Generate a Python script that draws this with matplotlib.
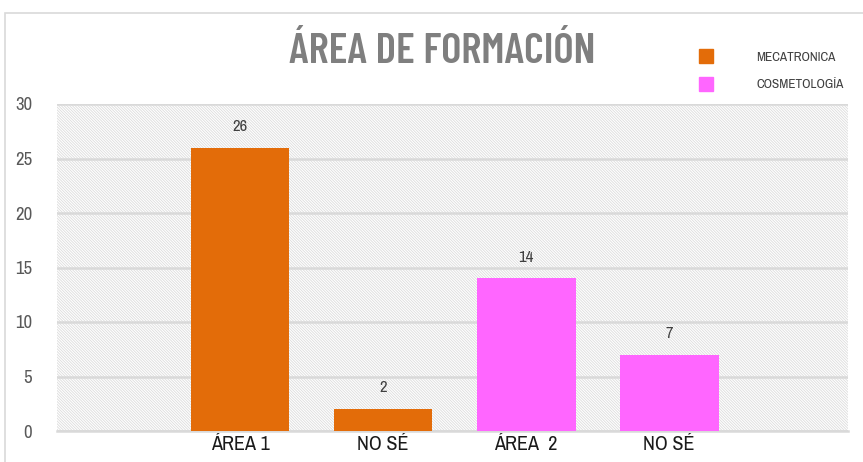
import matplotlib
matplotlib.use("Agg")
import matplotlib.pyplot as plt
from matplotlib.patches import Rectangle
from matplotlib.lines import Line2D

categories = ["ÁREA 1", "NO SÉ", "ÁREA  2", "NO SÉ"]
values = [26, 2, 14, 7]
series_of_bar = ["MECATRONICA", "MECATRONICA", "COSMETOLOGÍA", "COSMETOLOGÍA"]
series_names = ["MECATRONICA", "COSMETOLOGÍA"]
series_colors = {"MECATRONICA": "#E36C09", "COSMETOLOGÍA": "#FF66FF"}
yticks = [0, 5, 10, 15, 20, 25, 30]
title = "ÁREA DE FORMACIÓN"

LABEL_FONT = 'Archivo Narrow'
TITLE_FONT = 'Barlow Condensed'

plt.rcParams['hatch.linewidth'] = 0.6
plt.rcParams['hatch.color'] = '#dcdcdc'

fig = plt.figure(figsize=(8.63, 4.62), dpi=100)
W, H = 863, 462

# outer chart border
fig.add_artist(Rectangle((5 / W, -0.05), 1.2, (462 - 13) / H + 0.05, transform=fig.transFigure,
                         facecolor='none', edgecolor='#d9d9d9', linewidth=1.2))

ax = fig.add_axes([57 / W, 1 - 431 / H, (848 - 57) / W, (431 - 104) / H])
ax.set_facecolor('white')
bg = Rectangle((0, 0), 1, 1, transform=ax.transAxes, facecolor='white',
               edgecolor='#dcdcdc', hatch='\\' * 12, linewidth=0, zorder=0)
ax.add_patch(bg)

x = list(range(len(categories)))
colors = [series_colors[s] for s in series_of_bar]
bars = ax.bar(x, values, width=0.69, color=colors, zorder=3)
for xi, v in zip(x, values):
    ax.annotate(str(v), (xi, v), xytext=(0, 10), textcoords='offset points',
                ha='center', va='bottom', fontsize=12, color='#404040',
                fontfamily=LABEL_FONT)

ax.set_xlim(-1.28, 3 + 1.25)
ax.set_ylim(0, 30)
ax.set_yticks(yticks)
ax.set_yticklabels([str(t) for t in yticks], fontsize=13.5, color='#595959',
                   fontfamily=LABEL_FONT)
ax.set_xticks(x)
ax.set_xticklabels(categories, fontsize=14.5, color='#1a1a1a', fontfamily=LABEL_FONT)
ax.tick_params(axis='both', length=0)
ax.tick_params(axis='y', pad=18)
ax.tick_params(axis='x', pad=3)
ax.yaxis.grid(True, color='#d9d9d9', linewidth=1.8, zorder=1)
ax.set_axisbelow(True)
for s in ['top', 'right', 'left']:
    ax.spines[s].set_visible(False)
ax.spines['bottom'].set_color('#d9d9d9')
ax.spines['bottom'].set_linewidth(1.8)

fig.text(442 / W, 1 - 52 / H, title, ha='center', va='center', fontsize=31,
         fontweight='semibold', color='#7f7f7f', fontfamily=TITLE_FONT)

handles = [Line2D([0], [0], marker='s', linestyle='none', markersize=10,
                  markerfacecolor=series_colors[n], markeredgecolor=series_colors[n])
           for n in series_names]
leg = fig.legend(handles, series_names, loc='upper left', bbox_to_anchor=(681 / W, 1 - 40 / H),
                 frameon=False, handletextpad=2.8, labelspacing=1.2,
                 prop={'family': LABEL_FONT, 'size': 9.5})
for t in leg.get_texts():
    t.set_color('#404040')

fig.savefig('out.png', dpi=100)
